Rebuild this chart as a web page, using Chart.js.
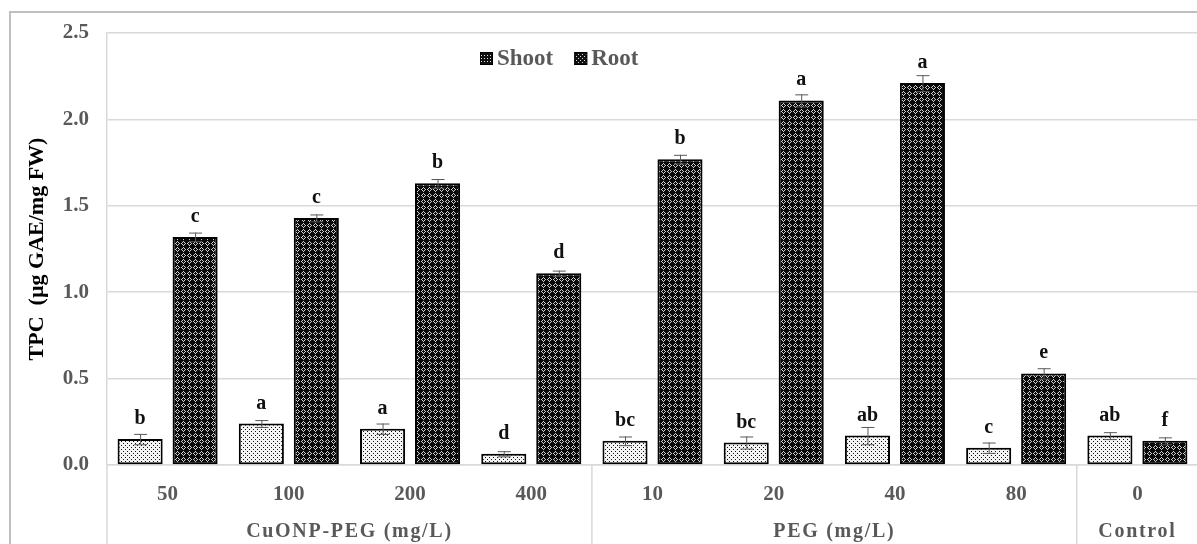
<!DOCTYPE html>
<html>
<head>
<meta charset="utf-8">
<script src="https://cdn.jsdelivr.net/npm/chart.js@4"></script>
<style>
  html, body { margin: 0; padding: 0; background: #fff; overflow: hidden; }
  #wrap { position: relative; width: 1197px; height: 544px; overflow: hidden; }
  canvas { display: block; }
</style>
</head>
<body>
<div id="wrap"><canvas id="c" width="1215" height="560"></canvas></div>
<script>
// Treatment concentrations (first axis level) and their treatment groups (second level)
const categories = ['50', '100', '200', '400', '10', '20', '40', '80', '0'];
const groupLabels = ['CuONP-PEG (mg/L)', 'PEG (mg/L)', 'Control'];
const groupSizes = [4, 4, 1];

// Total phenolic content, µg GAE/mg FW (mean and error)
const shootMeans = [0.15, 0.24, 0.21, 0.065, 0.14, 0.13, 0.17, 0.10, 0.17];
const shootErr   = [0.03, 0.02, 0.03, 0.015, 0.025, 0.035, 0.05, 0.03, 0.02];
const rootMeans  = [1.32, 1.43, 1.63, 1.11, 1.77, 2.11, 2.21, 0.53, 0.14];
const rootErr    = [0.025, 0.02, 0.025, 0.015, 0.025, 0.035, 0.046, 0.03, 0.02];

// Significance letters
const shootLetters = ['b', 'a', 'a', 'd', 'bc', 'bc', 'ab', 'c', 'ab'];
const rootLetters  = ['c', 'c', 'b', 'd', 'b', 'a', 'a', 'e', 'f'];

const yTicks = [0, 0.5, 1.0, 1.5, 2.0, 2.5];

const SERIF = "'Liberation Serif', 'Times New Roman', serif";
const GRID = '#d9d9d9';
const TEXT_GRAY = '#595959';

function makePattern(size, bg, fg, pixels) {
  const t = document.createElement('canvas');
  t.width = size; t.height = size;
  const g = t.getContext('2d');
  g.fillStyle = bg; g.fillRect(0, 0, size, size);
  g.fillStyle = fg;
  pixels.forEach(([x, y]) => g.fillRect(x, y, 1, 1));
  return g.createPattern(t, 'repeat');
}
// Bar fills: light dotted for shoot, dark lattice for root
const shootFill = makePattern(4, '#f4f4f4', '#111', [[1, 1], [3, 3]]);
const rootFill = makePattern(6, '#0a0a0a', '#d0d0d0',
  [[3,1],[2,2],[4,2],[1,3],[5,3],[2,4],[4,4],[3,5]]);
// Small legend swatches
const shootSwatch = makePattern(3, '#111', '#e8e8e8', [[1, 1]]);
const rootSwatch = makePattern(4, '#111', '#d8d8d8', [[0, 0], [2, 2]]);

const errorSets = [shootErr, rootErr];
const letterSets = [shootLetters, rootLetters];

// White page and light outer frame
const framePlugin = {
  id: 'frame',
  beforeDraw(chart) {
    const ctx = chart.ctx;
    ctx.save();
    ctx.fillStyle = '#fff';
    ctx.fillRect(0, 0, chart.width, chart.height);
    ctx.strokeStyle = '#bfbfbf';
    ctx.lineWidth = 2;
    ctx.strokeRect(10, 12, chart.width + 20, chart.height + 20);
    ctx.restore();
  }
};

// Error bars and significance letters above each bar
const errorPlugin = {
  id: 'errors',
  afterDatasetsDraw(chart) {
    const ctx = chart.ctx;
    const y = chart.scales.y;
    ctx.save();
    chart.data.datasets.forEach((ds, i) => {
      const meta = chart.getDatasetMeta(i);
      meta.data.forEach((bar, j) => {
        const v = ds.data[j];
        const e = errorSets[i][j];
        const top = y.getPixelForValue(v + e);
        const bot = y.getPixelForValue(Math.max(0, v - e));
        ctx.strokeStyle = '#595959';
        ctx.lineWidth = 1;
        ctx.beginPath();
        ctx.moveTo(bar.x + 0.5, top); ctx.lineTo(bar.x + 0.5, bot);
        ctx.moveTo(bar.x - 6, top + 0.5); ctx.lineTo(bar.x + 7, top + 0.5);
        ctx.moveTo(bar.x - 6, bot + 0.5); ctx.lineTo(bar.x + 7, bot + 0.5);
        ctx.stroke();
        ctx.fillStyle = '#111';
        ctx.font = 'bold 20px ' + SERIF;
        ctx.textAlign = 'center';
        ctx.textBaseline = 'alphabetic';
        ctx.fillText(letterSets[i][j], bar.x, y.getPixelForValue(v) - 15);
      });
    });
    ctx.restore();
  }
};

// Second-level axis labels, separators and the in-plot legend
const groupPlugin = {
  id: 'groups',
  afterDraw(chart) {
    const ctx = chart.ctx;
    const x = chart.scales.x;
    const area = chart.chartArea;
    ctx.save();
    ctx.strokeStyle = GRID;
    ctx.lineWidth = 1.5;
    ctx.beginPath();
    ctx.moveTo(area.left, area.bottom); ctx.lineTo(area.left, chart.height);
    let start = 0;
    const centers = [];
    groupSizes.forEach((n, g) => {
      const first = x.getPixelForValue(start);
      const last = x.getPixelForValue(start + n - 1);
      centers.push((first + last) / 2);
      if (g > 0) {
        const sep = (x.getPixelForValue(start - 1) + first) / 2;
        ctx.moveTo(sep, area.bottom); ctx.lineTo(sep, chart.height);
      }
      start += n;
    });
    ctx.stroke();

    ctx.fillStyle = TEXT_GRAY;
    ctx.font = 'bold 20px ' + SERIF;
    ctx.textAlign = 'center';
    ctx.textBaseline = 'middle';
    ctx.letterSpacing = '1.7px';
    groupLabels.forEach((lab, g) => ctx.fillText(lab, centers[g], area.bottom + 67));
    ctx.letterSpacing = '0px';

    // legend
    const items = [
      { label: chart.data.datasets[0].label, fill: shootSwatch },
      { label: chart.data.datasets[1].label, fill: rootSwatch }
    ];
    ctx.font = 'bold 23px ' + SERIF;
    ctx.textAlign = 'left';
    let lx = 480;
    const ly = 58;
    items.forEach(it => {
      ctx.fillStyle = it.fill;
      ctx.fillRect(lx, ly - 6, 13, 13);
      ctx.strokeStyle = '#000';
      ctx.lineWidth = 1;
      ctx.strokeRect(lx + 0.5, ly - 5.5, 12, 12);
      ctx.fillStyle = TEXT_GRAY;
      ctx.fillText(it.label, lx + 17, ly + 1);
      lx += 17 + ctx.measureText(it.label).width + 21;
    });
    ctx.restore();
  }
};

new Chart(document.getElementById('c'), {
  type: 'bar',
  data: {
    labels: categories,
    datasets: [
      {
        label: 'Shoot',
        data: shootMeans,
        backgroundColor: shootFill,
        borderColor: '#000',
        borderWidth: 2,
        borderSkipped: false,
        categoryPercentage: 0.907,
        barPercentage: 0.82
      },
      {
        label: 'Root',
        data: rootMeans,
        backgroundColor: rootFill,
        borderColor: '#000',
        borderWidth: 2,
        borderSkipped: false,
        categoryPercentage: 0.907,
        barPercentage: 0.82
      }
    ]
  },
  options: {
    responsive: false,
    animation: false,
    devicePixelRatio: 1,
    layout: { padding: { left: 0, top: 33, right: 17, bottom: 0 } },
    plugins: {
      legend: { display: false },
      tooltip: { enabled: false }
    },
    scales: {
      x: {
        offset: true,
        grid: { display: false, drawTicks: false },
        border: { display: true, color: GRID, width: 1.5 },
        ticks: {
          padding: 17,
          color: TEXT_GRAY,
          font: { family: SERIF, size: 21, weight: 'bold' }
        },
        afterFit(s) { s.height = 95; }
      },
      y: {
        min: 0,
        max: 2.5,
        afterBuildTicks(s) { s.ticks = yTicks.map(v => ({ value: v })); },
        grid: { color: GRID, lineWidth: 1.5, drawTicks: false },
        border: { display: true, color: GRID, width: 1.5 },
        ticks: {
          padding: 18,
          color: TEXT_GRAY,
          font: { family: SERIF, size: 21, weight: 'bold' },
          callback: v => Number(v).toFixed(1)
        },
        title: {
          display: true,
          text: 'TPC  (µg GAE/mg FW)',
          color: '#000',
          font: { family: SERIF, size: 22, weight: 'bold' },
          padding: { top: 24, bottom: 0 }
        },
        afterFit(s) { s.width = 107; }
      }
    }
  },
  plugins: [framePlugin, errorPlugin, groupPlugin]
});
</script>
</body>
</html>
